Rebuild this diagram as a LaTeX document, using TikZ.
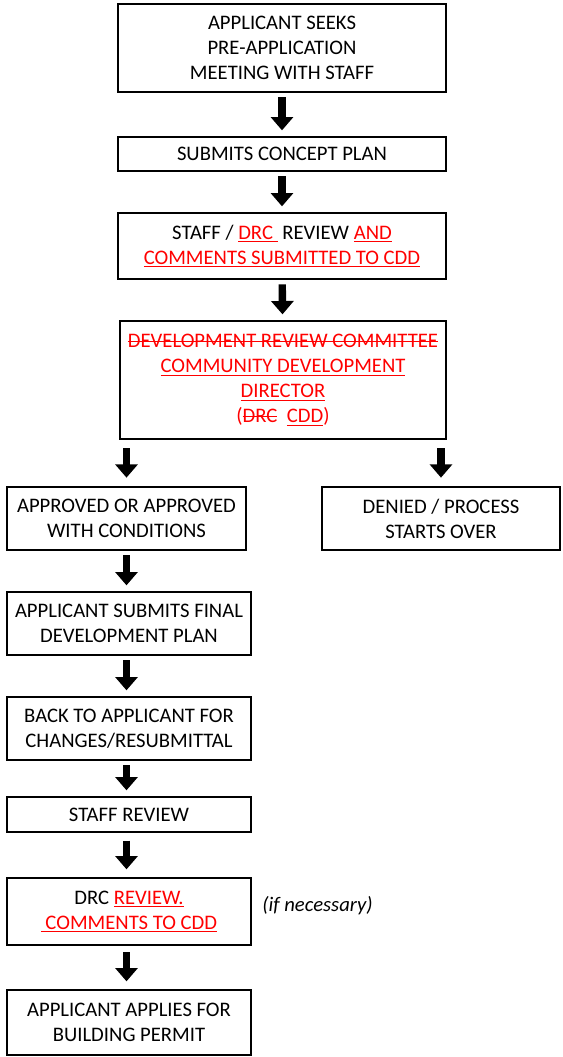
\documentclass[tikz,border=0pt]{standalone}
\usepackage{fontspec}
\setmainfont{Carlito}
\usepackage{tikz}
\usetikzlibrary{arrows.meta,positioning}
\tikzstyle{stepbox} = [rectangle, draw, line width=1pt, inner sep=0pt, align=center, font=\fontsize{15.5}{18.7}\selectfont]
\tikzstyle{flowarrow} = [line width=5.5pt, -{Triangle[width=16.5pt,length=10pt]}, shorten <=3.5pt, shorten >=4.5pt]
% red underlined / red struck-out words
\newcommand{\rul}[1]{{\color{red}\setbox0\hbox{#1}\rlap{\rule[-2.2pt]{\wd0}{0.75pt}}\box0}}
\newcommand{\rso}[1]{{\color{red}\setbox0\hbox{#1}\rlap{\rule[4.6pt]{\wd0}{0.75pt}}\box0}}

\begin{document}
\begin{tikzpicture}[x=0.75pt, y=-0.75pt]
    \useasboundingbox (0,0) rectangle (563,1057);
    % main column
    \node[stepbox, minimum width=246pt, minimum height=66pt] (b1) at (282,48)
        {APPLICANT SEEKS\\PRE-APPLICATION\\MEETING WITH STAFF};
    \node[stepbox, minimum width=246pt, minimum height=25.5pt] (b2) at (282,154)
        {SUBMITS CONCEPT PLAN};
    \node[stepbox, minimum width=246pt, minimum height=49.5pt] (b3) at (282,246)
        {STAFF / \rul{DRC\ }~REVIEW \rul{AND}\\\rul{COMMENTS SUBMITTED TO CDD}};
    \node[stepbox, minimum width=244.5pt, minimum height=88.5pt] (b4) at (283,380)
        {\rso{DEVELOPMENT REVIEW COMMITTEE}\\\rul{COMMUNITY DEVELOPMENT}\\\rul{DIRECTOR}\\{\color{red}(\rso{DRC}~~\rul{CDD})}};
    \draw[flowarrow] (b1) -- (b2);
    \draw[flowarrow] (b2) -- (b3);
    \draw[flowarrow] (b3) -- (b4);
    % branches
    \node[stepbox, minimum width=179.25pt, minimum height=47.25pt] (b5) at (126.5,518.5)
        {APPROVED OR APPROVED\\WITH CONDITIONS};
    \node[stepbox, minimum width=178.5pt, minimum height=47.25pt] (b6) at (441,518.5)
        {DENIED / PROCESS\\STARTS OVER};
    \draw[flowarrow, shorten <=6.5pt, shorten >=6.5pt] (b5.north |- b4.south) -- (b5);
    \draw[flowarrow, shorten <=6.5pt, shorten >=6.5pt] (b6.north |- b4.south) -- (b6);
    % left column
    \node[stepbox, minimum width=183pt, minimum height=47.25pt] (b7) at (129,623.5)
        {APPLICANT SUBMITS FINAL\\DEVELOPMENT PLAN};
    \node[stepbox, minimum width=183pt, minimum height=47.25pt] (b8) at (129,728.5)
        {BACK TO APPLICANT FOR\\CHANGES/RESUBMITTAL};
    \node[stepbox, minimum width=183pt, minimum height=26.25pt] (b9) at (129,814.5)
        {STAFF REVIEW};
    \node[stepbox, minimum width=183pt, minimum height=50.25pt] (b10) at (129,911.5)
        {DRC \rul{REVIEW.}\\\rul{\ COMMENTS TO CDD}};
    \node[stepbox, minimum width=183pt, minimum height=48.75pt] (b11) at (129,1022.5)
        {APPLICANT APPLIES FOR\\BUILDING PERMIT};
    \node[anchor=west, font=\fontsize{15.5}{18.7}\selectfont\itshape] (note) at ([xshift=4.5pt, yshift=4.5pt]b10.east)
        {(if necessary)};
    \draw[flowarrow] (b5.south) -- (b5.south |- b7.north);
    \draw[flowarrow] (b5.south |- b7.south) -- (b5.south |- b8.north);
    \draw[flowarrow] (b5.south |- b8.south) -- (b5.south |- b9.north);
    \draw[flowarrow, shorten <=6pt, shorten >=6pt] (b5.south |- b9.south) -- (b5.south |- b10.north);
    \draw[flowarrow, shorten <=5pt, shorten >=6pt] (b5.south |- b10.south) -- (b5.south |- b11.north);
\end{tikzpicture}
\end{document}
